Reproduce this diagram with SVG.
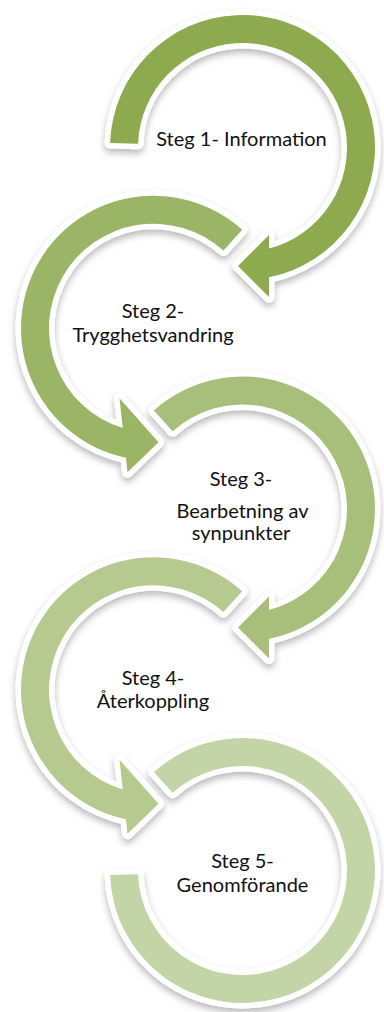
<svg xmlns="http://www.w3.org/2000/svg" width="384" height="1012" viewBox="0 0 384 1012">
  <defs>
    <filter id="sh" x="-20%" y="-20%" width="140%" height="140%">
      <feDropShadow dx="0" dy="4" stdDeviation="3.5" flood-color="#000" flood-opacity="0.28"/>
    </filter>
    <style>
      .arr { stroke: #ffffff; stroke-width: 11; stroke-linejoin: round; paint-order: stroke; filter: url(#sh); }
      .s1 { fill: #8DAA50; }
      .s2 { fill: #9AB565; }
      .s3 { fill: #A8BF7B; }
      .s4 { fill: #B6CA90; }
      .s5 { fill: #C3D5A6; }
      .lbl { font-family: Lato, "Liberation Sans", sans-serif; font-size: 20px; fill: #111111; text-anchor: middle; }
    </style>
  </defs>
  <rect width="384" height="1012" fill="#ffffff"/>
  <g id="connectors"></g>
  <g id="step5">
    <path class="arr s5" d="M153.84,771.97 A132.5,132.5 0 1 1 110.08,875.12 L138.06,874.15 A104.5,104.5 0 1 0 172.58,792.84 Z"/>
    <text class="lbl" x="242.5" y="868">Steg 5-</text>
    <text class="lbl" x="242.5" y="892">Genomförande</text>
  </g>
  <g id="step4">
    <path class="arr s4" d="M242.16,591.28 A132.5,132.5 0 1 0 125.94,819.35 L127.5,833.75 L158.5,803.75 L119.5,759.75 L122.73,789.62 A104.5,104.5 0 1 1 223.42,612.09 Z"/>
    <text class="lbl" x="153" y="685">Steg 4-</text>
    <text class="lbl" x="153" y="708">Återkoppling</text>
  </g>
  <g id="step3">
    <path class="arr s3" d="M153.84,410.53 A132.5,132.5 0 1 1 269,638.82 L269,658.5 L238,627.5 L269,596.5 L269,610.08 A104.5,104.5 0 1 0 172.58,431.34 Z"/>
    <text class="lbl" x="241" y="486">Steg 3-</text>
    <text class="lbl" x="242.5" y="518">Bearbetning av</text>
    <text class="lbl" x="241" y="540">synpunkter</text>
  </g>
  <g id="step2">
    <path class="arr s2" d="M242.16,229.78 A132.5,132.5 0 1 0 125.94,457.85 L127.5,472.25 L158.5,442.25 L119.5,398.25 L122.73,428.12 A104.5,104.5 0 1 1 223.42,250.59 Z"/>
    <text class="lbl" x="153" y="318">Steg 2-</text>
    <text class="lbl" x="153" y="342">Trygghetsvandring</text>
  </g>
  <g id="step1">
    <path class="arr s1" d="M110.08,142.88 A132.5,132.5 0 1 1 269,277.33 L269,297 L238,266 L269,235 L269,248.58 A104.5,104.5 0 1 0 138.06,143.85 Z"/>
    <text class="lbl" x="241.5" y="146">Steg 1- Information</text>
  </g>
</svg>
